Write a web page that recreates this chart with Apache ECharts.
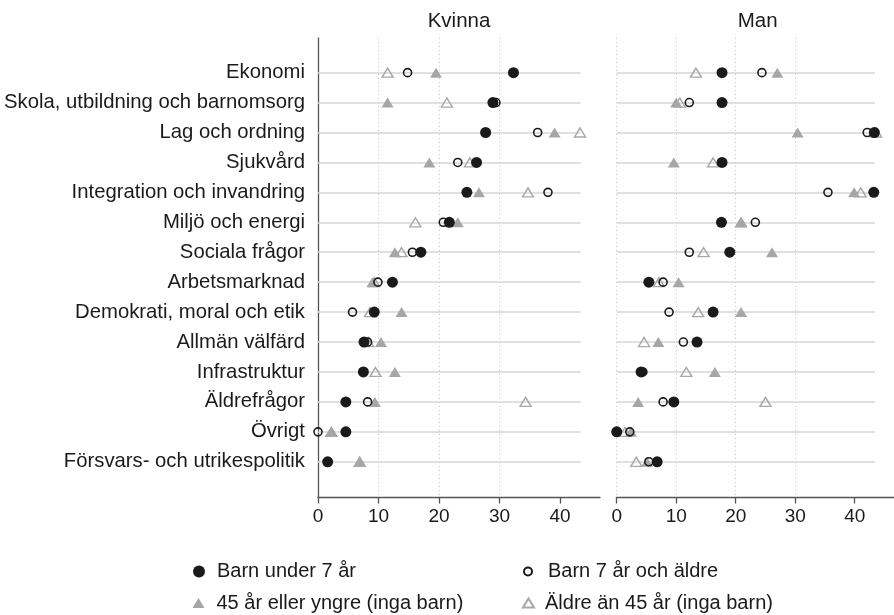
<!DOCTYPE html>
<html>
<head>
<meta charset="utf-8">
<script src="https://cdn.jsdelivr.net/npm/echarts@6/dist/echarts.min.js"></script>
<style>
html,body{margin:0;padding:0;background:#fff;}
#chart{width:894px;height:615px;}
</style>
</head>
<body>
<div id="chart"></div>
<script>
const categories = ['Ekonomi','Skola, utbildning och barnomsorg','Lag och ordning','Sjukvård','Integration och invandring','Miljö och energi','Sociala frågor','Arbetsmarknad','Demokrati, moral och etik','Allmän välfärd','Infrastruktur','Äldrefrågor','Övrigt','Försvars- och utrikespolitik'];
const panels = ['Kvinna','Man'];
const seriesNames = ['Barn under 7 år','Barn 7 år och äldre','45 år eller yngre (inga barn)','Äldre än 45 år (inga barn)'];
const xTicks = [0,10,20,30,40];

// Kvinna
const barnUnder7K = [32.3, 28.9, 27.7, 26.2, 24.6, 21.7, 17.0, 12.3, 9.3, 7.6, 7.5, 4.6, 4.6, 1.6];
const barn7K      = [14.8, 29.4, 36.3, 23.1, 38.0, 20.7, 15.6, 9.9, 5.7, 8.2, 7.5, 8.2, 0.0, 1.6];
const yngreK      = [19.5, 11.5, 39.1, 18.4, 26.6, 23.1, 12.7, 9.0, 13.8, 10.4, 12.7, 9.4, 2.2, 6.9];
const aldreK      = [11.5, 21.3, 43.3, 25.1, 34.7, 16.1, 13.8, 9.3, 8.6, 8.3, 9.5, 34.3, 2.2, 6.9];
// Man
const barnUnder7M = [17.7, 17.7, 43.3, 17.7, 43.2, 17.6, 19.0, 5.4, 16.2, 13.5, 4.1, 9.6, 0.0, 6.8];
const barn7M      = [24.4, 12.2, 42.1, 17.7, 35.5, 23.3, 12.2, 7.8, 8.8, 11.2, 4.4, 7.8, 2.2, 5.4];
const yngreM      = [27.0, 10.0, 30.4, 9.6, 39.9, 20.9, 26.1, 10.4, 20.9, 7.0, 16.5, 3.6, 2.4, 5.1];
const aldreM      = [13.3, 10.6, 43.6, 16.2, 41.0, 20.9, 14.6, 7.1, 13.7, 4.6, 11.7, 25.0, 1.4, 3.3];

const ROW_END = 43.4;
const X_MAX = 46.6;
const Y_MIN = -1.157, Y_MAX = 14.177;
const FONT = "'Liberation Sans', Arial, Helvetica, sans-serif";
const TXT = '#1a1a1a';
const AXIS = '#555555';

const panelData = [
  [barnUnder7K, barn7K, yngreK, aldreK],
  [barnUnder7M, barn7M, yngreM, aldreM]
];

const styles = [
  {symbol:'circle', symbolSize:11, itemStyle:{color:'#1a1a1a', borderWidth:0, opacity:1}, z:5},
  {symbol:'circle', symbolSize:8, itemStyle:{color:'rgba(0,0,0,0)', borderColor:'#1a1a1a', borderWidth:1.6, opacity:1}, z:4},
  {symbol:'triangle', symbolSize:[12,10], itemStyle:{color:'#a6a6a6', borderWidth:0, opacity:1}, z:2},
  {symbol:'triangle', symbolSize:[11,9], itemStyle:{color:'rgba(0,0,0,0)', borderColor:'#a8a8a8', borderWidth:1.4, opacity:1}, z:3}
];

const grids = [
  {left:318, top:38, width:282, height:459},
  {left:616.7, top:38, width:282, height:459}
];

const xAxes = grids.map((g,i)=>({
  type:'value', gridIndex:i, min:0, max:X_MAX, position:'bottom',
  axisLine:{show:true, onZero:false, lineStyle:{color:AXIS, width:1.3}},
  axisTick:{show:true, length:6.5, customValues:xTicks, lineStyle:{color:AXIS, width:1.3}},
  axisLabel:{customValues:xTicks, fontSize:19, color:TXT, fontFamily:FONT, margin:10},
  splitLine:{show:true, showMaxLine:false, lineStyle:{type:[1,3], color:'#c4c4c4', width:1}}
}));

const yAxes = grids.map((g,i)=>({
  type:'value', gridIndex:i, inverse:true, min:Y_MIN, max:Y_MAX,
  axisLine:{show:i===0, onZero:false, lineStyle:{color:AXIS, width:1.3}},
  axisTick:{show:false},
  splitLine:{show:false},
  axisLabel:{show:i===0, customValues:categories.map((c,k)=>k),
    formatter:(v)=>categories[Math.round(v)] || '',
    fontSize:20.3, color:TXT, fontFamily:FONT, margin:13}
}));

const series = [];
panels.forEach((p,pi)=>{
  series.push({
    type:'lines', coordinateSystem:'cartesian2d', xAxisIndex:pi, yAxisIndex:pi,
    silent:true, z:1,
    lineStyle:{color:'#d6d6d6', width:1.5, opacity:1},
    data: categories.map((c,k)=>({coords:[[0,k],[ROW_END,k]]}))
  });
  panelData[pi].forEach((vals,si)=>{
    const st = styles[si];
    series.push({
      name: seriesNames[si], type:'scatter', xAxisIndex:pi, yAxisIndex:pi,
      symbol: st.symbol, symbolSize: st.symbolSize, itemStyle: st.itemStyle, z: st.z,
      silent:true,
      data: vals.map((v,k)=> v==null ? null : [v,k])
    });
  });
});

const legendBase = {padding:0, textStyle:{fontSize:20, color:TXT, fontFamily:FONT}, selectedMode:false};
const legends = [
  Object.assign({}, legendBase, {left:193, top:561.5, itemWidth:12, itemHeight:12,
    data:[{name:seriesNames[0], icon:'circle'}], textStyle:Object.assign({}, legendBase.textStyle, {padding:[0,0,0,7]})}),
  Object.assign({}, legendBase, {left:523, top:561.5, itemWidth:8, itemHeight:8,
    data:[{name:seriesNames[1], icon:'circle'}], textStyle:Object.assign({}, legendBase.textStyle, {padding:[0,0,0,11]})}),
  Object.assign({}, legendBase, {left:192.5, top:593, itemWidth:12, itemHeight:10,
    data:[{name:seriesNames[2], icon:'triangle'}], textStyle:Object.assign({}, legendBase.textStyle, {padding:[0,0,0,7]})}),
  Object.assign({}, legendBase, {left:522, top:593, itemWidth:11, itemHeight:9,
    data:[{name:seriesNames[3], icon:'triangle'}], textStyle:Object.assign({}, legendBase.textStyle, {padding:[0,0,0,6]})})
];

const chart = echarts.init(document.getElementById('chart'), null, {renderer:'canvas'});
chart.setOption({
  backgroundColor:'#ffffff',
  animation:false,
  grid: grids,
  xAxis: xAxes,
  yAxis: yAxes,
  legend: legends,
  graphic: panels.map((p,pi)=>({
    type:'text', x: grids[pi].left + grids[pi].width/2, y:21,
    style:{text:p, font:"20.5px "+FONT, fill:TXT, align:'center', verticalAlign:'middle', textAlign:'center', textVerticalAlign:'middle'}
  })),
  series: series
});
</script>
</body>
</html>
